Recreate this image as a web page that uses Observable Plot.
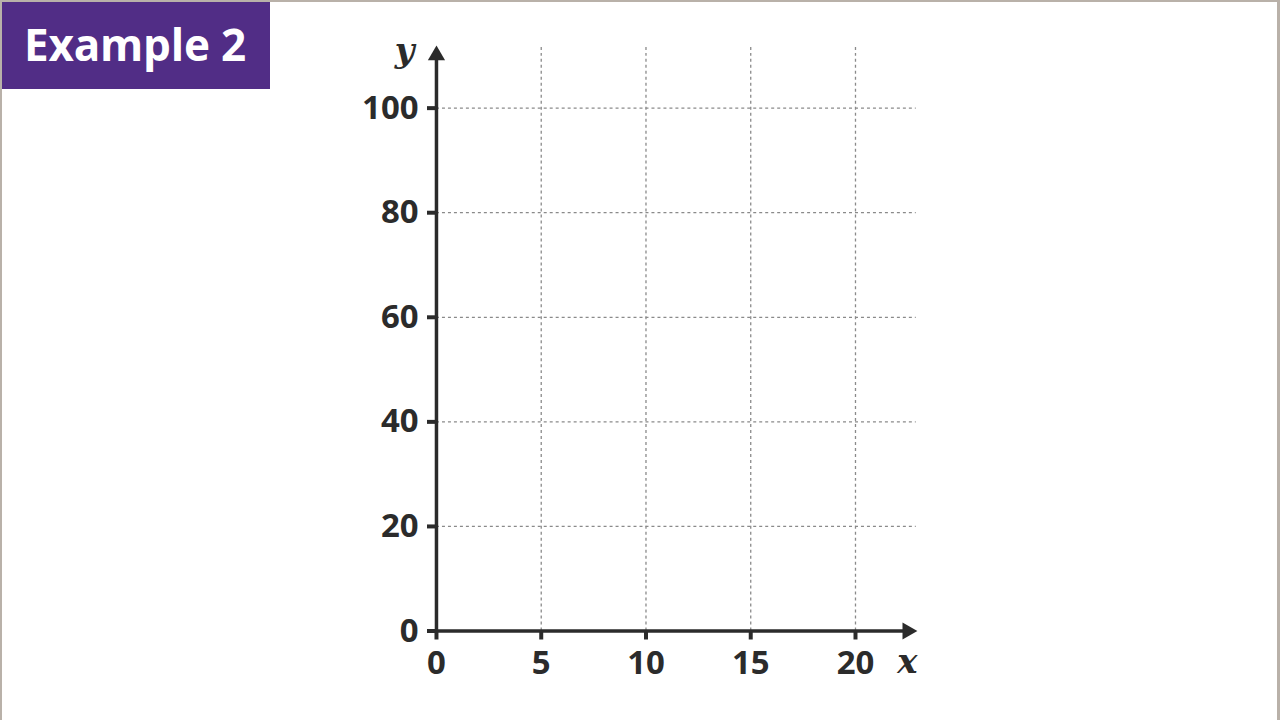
<!DOCTYPE html>
<html>
<head>
<meta charset="utf-8">
<script src="https://cdn.jsdelivr.net/npm/d3@7"></script>
<script src="https://cdn.jsdelivr.net/npm/@observablehq/plot@0.6"></script>
<style>
  html, body { margin: 0; padding: 0; background: #fff; }
  #wrap { position: relative; width: 1280px; height: 720px; overflow: hidden; box-sizing: border-box;
          border-left: 2px solid #b9b1a9; border-top: 2px solid #b9b1a9; border-right: 3px solid #b9b1a9; }
  #title { position: absolute; left: 0; top: 0; width: 268px; height: 87px; background: #512d86;
           color: #fff; font-family: "Open Sans", sans-serif; font-weight: 700; font-size: 44px;
           line-height: 84px; padding-left: 22px; box-sizing: border-box; letter-spacing: -0.2px; }
  #chart { position: absolute; left: -2px; top: -2px; }
</style>
</head>
<body>
<div id="wrap">
  <div id="chart"></div>
  <div id="title">Example 2</div>
</div>
<script>
// Tick values and grid
const xTicks = [0, 5, 10, 15, 20];
const yTicks = [0, 20, 40, 60, 80, 100];
const xGrid = [5, 10, 15, 20];
const yGrid = [20, 40, 60, 80, 100];
// Axis extents
const xDomain = [0, 23];
const yDomain = [0, 112];
const gridTop = 111.6;
const gridRight = 22.9;
const xArrowAt = 22.48;
const yArrowAt = 110.1;
const xLabel = "x";
const yLabel = "y";

const ink = "#2b2b2b";
const tickFont = "'Open Sans', sans-serif";

const chart = Plot.plot({
  width: 1280,
  height: 720,
  marginLeft: 437,
  marginRight: 360,
  marginTop: 45,
  marginBottom: 88,
  x: { domain: xDomain },
  y: { domain: yDomain },
  style: { background: "transparent", color: ink },
  marks: [
    Plot.ruleX(xGrid, { y1: 0, y2: gridTop, stroke: "#8a8a8a", strokeWidth: 1.3, strokeDasharray: "3,3" }),
    Plot.ruleY(yGrid, { x1: 0, x2: gridRight, stroke: "#8a8a8a", strokeWidth: 1.3, strokeDasharray: "3,3" }),
    Plot.axisX({ ticks: xTicks, tickSize: 9, strokeWidth: 4, tickPadding: 11, label: null,
      fontSize: 33, fontWeight: 700, fontFamily: tickFont, fill: ink, stroke: ink }),
    Plot.axisY({ ticks: yTicks, tickSize: 9, strokeWidth: 4, tickPadding: 9, label: null,
      fontSize: 33, fontWeight: 700, fontFamily: tickFont, fill: ink, stroke: ink }),
    Plot.ruleY([0], { x1: 0, x2: xArrowAt, stroke: ink, strokeWidth: 3.5 }),
    Plot.ruleX([0], { y1: 0, y2: yArrowAt, stroke: ink, strokeWidth: 3.5 }),
    Plot.dot([{ x: xArrowAt, y: 0 }], { x: "x", y: "y", symbol: "triangle", r: 6.4, rotate: 90, fill: ink, stroke: null }),
    Plot.dot([{ x: 0, y: yArrowAt }], { x: "x", y: "y", symbol: "triangle", r: 6.4, fill: ink, stroke: null }),
    Plot.text([yLabel], { frameAnchor: "top-left", textAnchor: "middle", lineAnchor: "middle", dx: -32, dy: 6,
      text: d => d, fontFamily: "'DejaVu Serif', serif",
      fontStyle: "italic", fontWeight: 700, fontSize: 34, fill: ink }),
    Plot.text([xLabel], { frameAnchor: "bottom-right", textAnchor: "middle", lineAnchor: "middle", dx: -11, dy: 31,
      text: d => d, fontFamily: "'DejaVu Serif', serif",
      fontStyle: "italic", fontWeight: 700, fontSize: 34, fill: ink })
  ]
});
document.getElementById("chart").appendChild(chart);
</script>
</body>
</html>
